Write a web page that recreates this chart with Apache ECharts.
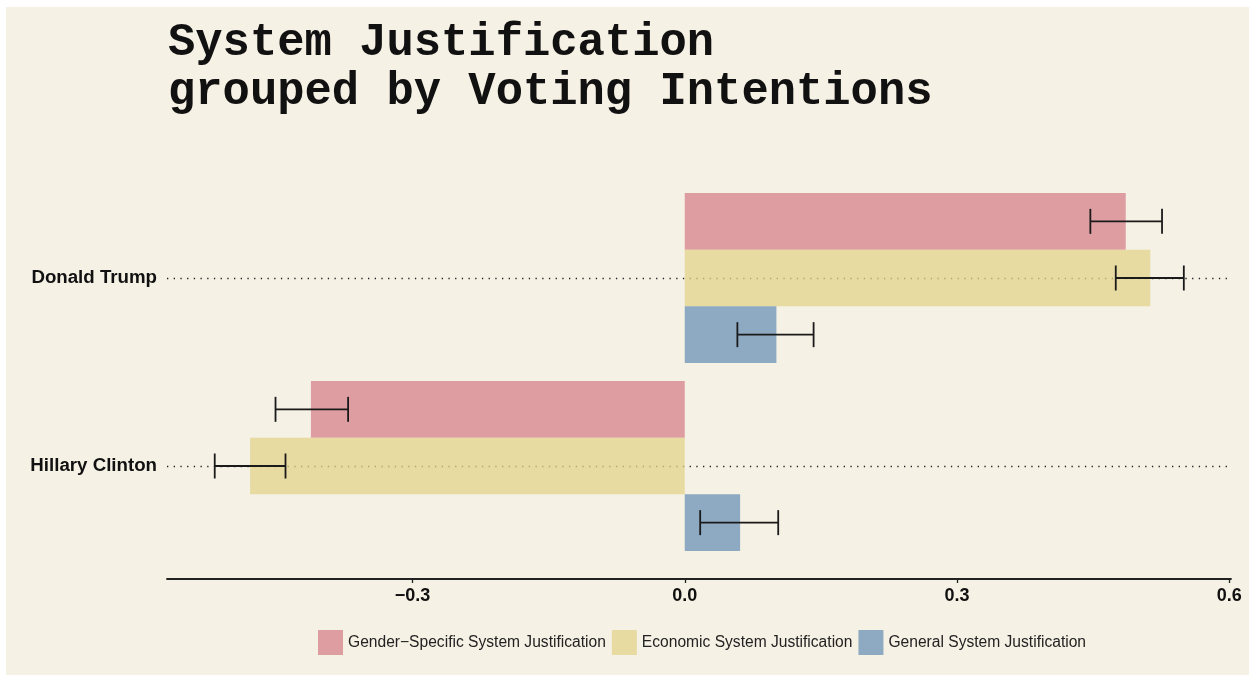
<!DOCTYPE html>
<html>
<head>
<meta charset="utf-8">
<script src="https://cdn.jsdelivr.net/npm/echarts@6/dist/echarts.min.js"></script>
<style>
html,body{margin:0;padding:0;background:#ffffff;}
#chart{width:1255px;height:681px;}
</style>
</head>
<body>
<div id="chart"></div>
<script>
// ---- data ----
var categories = ['Donald Trump', 'Hillary Clinton'];
var seriesNames = ['Gender\u2212Specific System Justification', 'Economic System Justification', 'General System Justification'];
var genderValues = [0.486, -0.412];
var economicValues = [0.513, -0.479];
var generalValues = [0.101, 0.061];
var genderLow = [0.447, -0.451];
var genderHigh = [0.526, -0.371];
var economicLow = [0.475, -0.518];
var economicHigh = [0.550, -0.440];
var generalLow = [0.058, 0.017];
var generalHigh = [0.142, 0.103];
var xTickValues = [-0.3, 0, 0.3, 0.6];

var colors = ['#D5828A', '#E1D38A', '#6A91B5'];
var barOpacity = 0.75;

function errData(lo, hi, slot) {
  return categories.map(function (c, i) { return [lo[i], hi[i], i, slot]; });
}
var errorData = [].concat(
  errData(genderLow, genderHigh, -1),
  errData(economicLow, economicHigh, 0),
  errData(generalLow, generalHigh, 1)
);

var chart = echarts.init(document.getElementById('chart'));
var barCatGap = 0.096;

function renderErr(params, api) {
  var lo = api.value(0), hi = api.value(1), ci = api.value(2), slot = api.value(3);
  var band = api.size([0, 1])[1];
  var h = band * (1 - barCatGap) / 3;
  var p1 = api.coord([lo, ci]);
  var p2 = api.coord([hi, ci]);
  var y = p1[1] + slot * h;
  var cap = 12.5;
  var st = { stroke: '#1a1a1a', lineWidth: 1.8 };
  return {
    type: 'group',
    children: [
      { type: 'line', shape: { x1: p1[0], y1: y, x2: p2[0], y2: y }, style: st },
      { type: 'line', shape: { x1: p1[0], y1: y - cap, x2: p1[0], y2: y + cap }, style: st },
      { type: 'line', shape: { x1: p2[0], y1: y - cap, x2: p2[0], y2: y + cap }, style: st }
    ]
  };
}

var option = {
  backgroundColor: 'transparent',
  animation: false,
  graphic: [{
    type: 'rect', left: 6, top: 7, z: -10, silent: true,
    shape: { width: 1243, height: 668 },
    style: { fill: '#F6F1E5' }
  }],
  title: {
    text: 'System Justification\ngrouped by Voting Intentions',
    left: 163, top: 14,
    textStyle: {
      fontFamily: 'Liberation Mono', fontWeight: 'bold', fontSize: 45.5,
      lineHeight: 49, color: '#111111'
    }
  },
  legend: {
    left: 318, top: 630, padding: 0,
    itemWidth: 25, itemHeight: 25, itemGap: 6,
    icon: 'rect',
    data: seriesNames,
    textStyle: { fontFamily: 'Liberation Sans', fontSize: 15.6, color: '#222222' }
  },
  grid: { left: 167, right: 24, top: 184, bottom: 121, containLabel: false },
  xAxis: {
    type: 'value', min: -0.5706, max: 0.602,
    offset: 19,
    splitLine: { show: false },
    axisLine: { show: true, lineStyle: { color: '#222222', width: 1.8 } },
    axisTick: { show: true, length: 4, customValues: xTickValues, lineStyle: { color: '#222222', width: 1.3 } },
    axisLabel: {
      customValues: xTickValues, margin: 8,
      fontFamily: 'Liberation Sans', fontWeight: 'bold', fontSize: 18, color: '#111111',
      formatter: function (v) { return v.toFixed(1).replace('-', '\u2212'); }
    }
  },
  yAxis: {
    type: 'category', data: categories, inverse: true,
    axisLine: { show: false }, axisTick: { show: false },
    splitLine: { show: false },
    axisLabel: { margin: 10, fontFamily: 'Liberation Sans', fontWeight: 'bold', fontSize: 18.7, color: '#111111' }
  },
  series: [
    {
      name: seriesNames[0], type: 'bar', data: genderValues, z: 2,
      barCategoryGap: (barCatGap * 100) + '%', barGap: '0%',
      itemStyle: { color: colors[0], opacity: barOpacity }
    },
    {
      name: seriesNames[1], type: 'bar', data: economicValues, z: 2,
      barCategoryGap: (barCatGap * 100) + '%', barGap: '0%',
      itemStyle: { color: colors[1], opacity: barOpacity },
      markLine: {
        silent: true, symbol: 'none', z: 1,
        label: { show: false },
        lineStyle: { color: '#222222', type: [1.3, 5.4], width: 1.3 },
        data: categories.map(function (c) { return { yAxis: c }; })
      }
    },
    {
      name: seriesNames[2], type: 'bar', data: generalValues, z: 2,
      barCategoryGap: (barCatGap * 100) + '%', barGap: '0%',
      itemStyle: { color: colors[2], opacity: barOpacity }
    },
    {
      type: 'custom', name: 'errors', z: 5, silent: true,
      renderItem: renderErr,
      encode: { x: [0, 1], y: 2 },
      data: errorData
    }
  ]
};
chart.setOption(option);
</script>
</body>
</html>
